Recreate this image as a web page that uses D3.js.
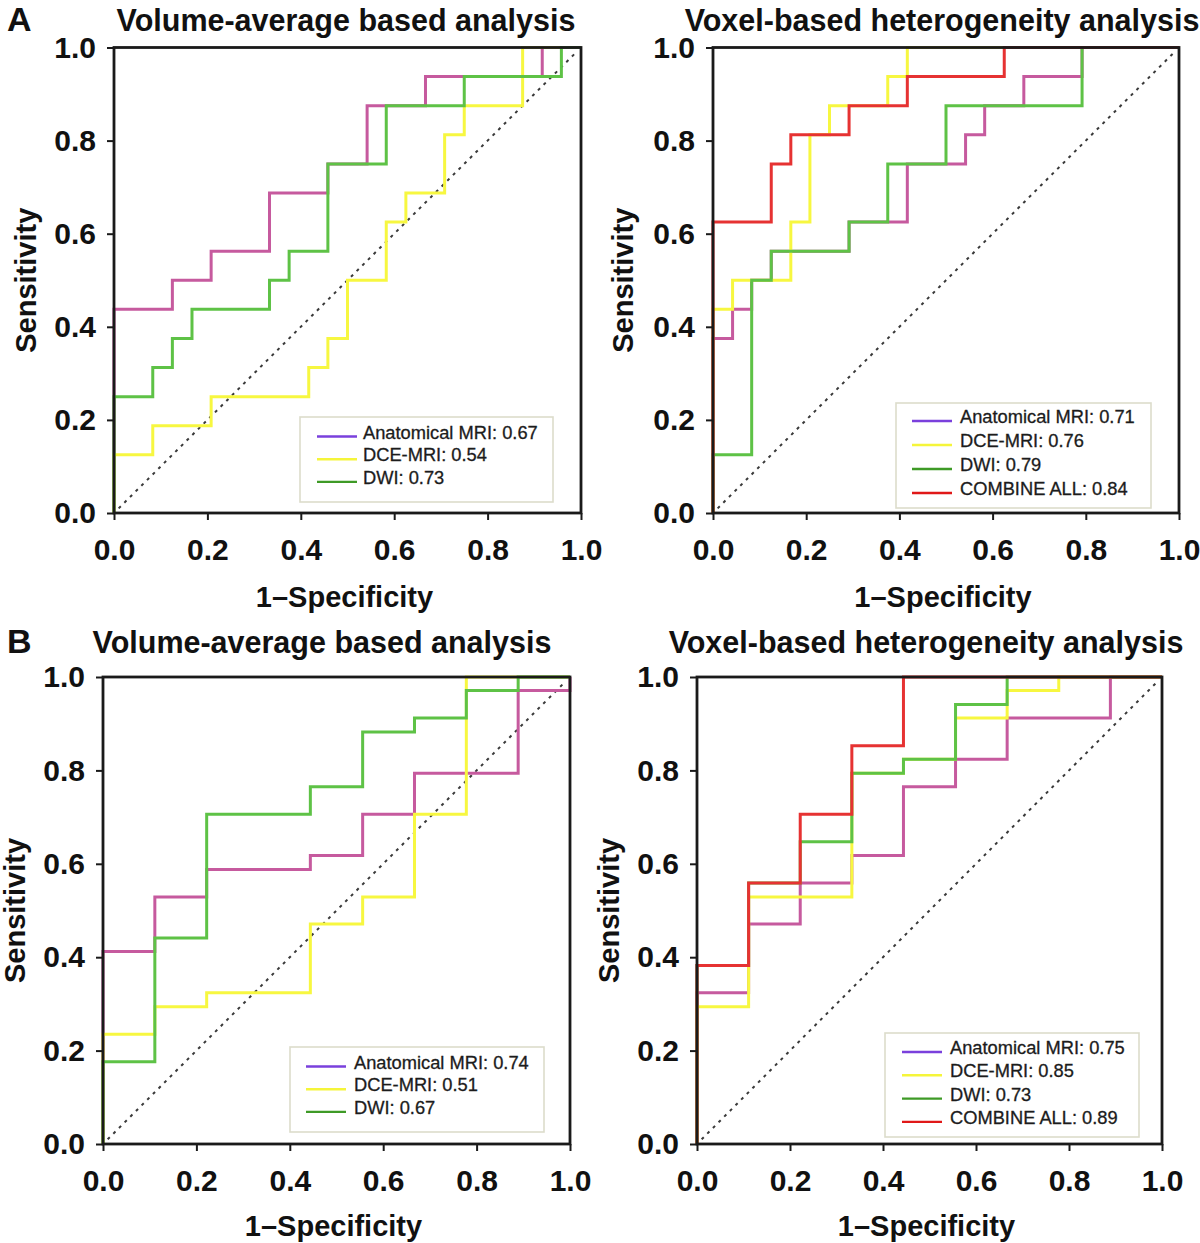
<!DOCTYPE html>
<html>
<head>
<meta charset="utf-8">
<script src="https://cdn.jsdelivr.net/npm/d3@7"></script>
<style>
  html, body { margin: 0; padding: 0; background: #fff; }
  svg { display: block; }
  text { font-family: "Liberation Sans", Arial, sans-serif; }
</style>
</head>
<body>
<svg id="chart" width="1200" height="1243"></svg>
<script>
// ---------------- DATA ----------------
const tickValues = [0, 0.2, 0.4, 0.6, 0.8, 1.0];
const tickLabels = ["0.0", "0.2", "0.4", "0.6", "0.8", "1.0"];
const panelLetters = ["A", "B"];
const panelTitles = ["Volume-average based analysis", "Voxel-based heterogeneity analysis",
                     "Volume-average based analysis", "Voxel-based heterogeneity analysis"];
const xAxisTitle = "1\u2013Specificity";
const yAxisTitle = "Sensitivity";
const seriesNames = ["Anatomical MRI", "DCE-MRI", "DWI", "COMBINE ALL"];

// AUC values per panel (A volume, A voxel, B volume, B voxel)
const aucAVolume = [0.67, 0.54, 0.73];
const aucAVoxel  = [0.71, 0.76, 0.79, 0.84];
const aucBVolume = [0.74, 0.51, 0.67];
const aucBVoxel  = [0.75, 0.85, 0.73, 0.89];

// ROC step points (1-specificity, sensitivity); each point is where a rise happens
// Panel A, volume-average
const aVolAnatFpr = [0, 0, 0.125, 0.208, 0.333, 0.458, 0.542, 0.667, 0.917, 1];
const aVolAnatTpr = [0, 0.4375, 0.5, 0.5625, 0.6875, 0.75, 0.875, 0.9375, 1, 1];
const aVolDceFpr  = [0, 0, 0.083, 0.208, 0.417, 0.458, 0.5, 0.583, 0.625, 0.708, 0.75, 0.875, 1];
const aVolDceTpr  = [0, 0.125, 0.1875, 0.25, 0.3125, 0.375, 0.5, 0.625, 0.6875, 0.8125, 0.875, 1, 1];
const aVolDwiFpr  = [0, 0, 0.083, 0.125, 0.167, 0.333, 0.375, 0.458, 0.583, 0.75, 0.958, 1];
const aVolDwiTpr  = [0, 0.25, 0.3125, 0.375, 0.4375, 0.5, 0.5625, 0.75, 0.875, 0.9375, 1, 1];
// Panel A, voxel-based
const aVoxAnatFpr = [0, 0, 0.042, 0.083, 0.125, 0.292, 0.417, 0.542, 0.583, 0.667, 0.792, 1];
const aVoxAnatTpr = [0, 0.375, 0.4375, 0.5, 0.5625, 0.625, 0.75, 0.8125, 0.875, 0.9375, 1, 1];
const aVoxDceFpr  = [0, 0, 0.042, 0.167, 0.208, 0.25, 0.375, 0.417, 1];
const aVoxDceTpr  = [0, 0.4375, 0.5, 0.625, 0.8125, 0.875, 0.9375, 1, 1];
const aVoxDwiFpr  = [0, 0, 0.083, 0.125, 0.292, 0.375, 0.5, 0.792, 1];
const aVoxDwiTpr  = [0, 0.125, 0.5, 0.5625, 0.625, 0.75, 0.875, 1, 1];
const aVoxAllFpr  = [0, 0, 0.125, 0.167, 0.292, 0.417, 0.625, 1];
const aVoxAllTpr  = [0, 0.625, 0.75, 0.8125, 0.875, 0.9375, 1, 1];
// Panel B, volume-average
const bVolAnatFpr = [0, 0, 0.111, 0.222, 0.444, 0.556, 0.667, 0.889, 1];
const bVolAnatTpr = [0, 0.412, 0.529, 0.588, 0.618, 0.706, 0.794, 0.971, 1];
const bVolDceFpr  = [0, 0, 0.111, 0.222, 0.444, 0.556, 0.667, 0.778, 1];
const bVolDceTpr  = [0, 0.235, 0.294, 0.324, 0.471, 0.529, 0.706, 1, 1];
const bVolDwiFpr  = [0, 0, 0.111, 0.222, 0.444, 0.556, 0.667, 0.778, 0.889, 1];
const bVolDwiTpr  = [0, 0.176, 0.441, 0.706, 0.765, 0.882, 0.912, 0.971, 1, 1];
// Panel B, voxel-based
const bVoxAnatFpr = [0, 0, 0.111, 0.222, 0.333, 0.444, 0.556, 0.667, 0.889, 1];
const bVoxAnatTpr = [0, 0.324, 0.471, 0.559, 0.618, 0.765, 0.824, 0.912, 1, 1];
const bVoxDceFpr  = [0, 0, 0.111, 0.333, 0.444, 0.556, 0.667, 0.778, 1];
const bVoxDceTpr  = [0, 0.294, 0.529, 0.794, 0.824, 0.912, 0.971, 1, 1];
const bVoxDwiFpr  = [0, 0, 0.111, 0.222, 0.333, 0.444, 0.556, 0.667, 1];
const bVoxDwiTpr  = [0, 0.382, 0.559, 0.647, 0.794, 0.824, 0.941, 1, 1];
const bVoxAllFpr  = [0, 0, 0.111, 0.222, 0.333, 0.444, 1];
const bVoxAllTpr  = [0, 0.382, 0.559, 0.706, 0.853, 1, 1];

// ---------------- STYLE / LAYOUT ----------------
const curveColors  = ["#c65a9e", "#f7f740", "#5ec246", "#e63232"];
const legendColors = ["#7a40dc", "#f5f53a", "#3e9a26", "#e01818"];

const zip = (fx, ty) => fx.map((v, i) => ({ x: v, y: ty[i] }));

const panels = [
  { x0: 114, x1: 581, yb: 513, yt: 47.5, title: panelTitles[0], titleX: 346, titleY: 31,
    letter: panelLetters[0], yTitleX: 26, xTitleY: 597,
    curves: [zip(aVolAnatFpr, aVolAnatTpr), zip(aVolDceFpr, aVolDceTpr), zip(aVolDwiFpr, aVolDwiTpr)],
    auc: aucAVolume, legend: { x: 300, y: 417, w: 253, h: 85, row0: 436.5, dy: 22.7, lx0: 317, lx1: 357, tx: 363 } },
  { x0: 713, x1: 1179, yb: 513, yt: 47.5, title: panelTitles[1], titleX: 942, titleY: 31,
    yTitleX: 623, xTitleY: 597,
    curves: [zip(aVoxAnatFpr, aVoxAnatTpr), zip(aVoxDceFpr, aVoxDceTpr), zip(aVoxDwiFpr, aVoxDwiTpr), zip(aVoxAllFpr, aVoxAllTpr)],
    auc: aucAVoxel, legend: { x: 896, y: 403, w: 255, h: 105, row0: 421, dy: 24, lx0: 912, lx1: 952, tx: 960 } },
  { x0: 103, x1: 570, yb: 1144, yt: 677, title: panelTitles[2], titleX: 322, titleY: 653,
    letter: panelLetters[1], yTitleX: 15, xTitleY: 1226,
    curves: [zip(bVolAnatFpr, bVolAnatTpr), zip(bVolDceFpr, bVolDceTpr), zip(bVolDwiFpr, bVolDwiTpr)],
    auc: aucBVolume, legend: { x: 290, y: 1047, w: 254, h: 85, row0: 1066.5, dy: 22.7, lx0: 306, lx1: 346, tx: 354 } },
  { x0: 697, x1: 1162, yb: 1144, yt: 677, title: panelTitles[3], titleX: 926, titleY: 653,
    yTitleX: 609, xTitleY: 1226,
    curves: [zip(bVoxAnatFpr, bVoxAnatTpr), zip(bVoxDceFpr, bVoxDceTpr), zip(bVoxDwiFpr, bVoxDwiTpr), zip(bVoxAllFpr, bVoxAllTpr)],
    auc: aucBVoxel, legend: { x: 885, y: 1033, w: 254, h: 104, row0: 1052, dy: 23.3, lx0: 902, lx1: 942, tx: 950 } }
];

const svg = d3.select("#chart");

panels.forEach((p, pi) => {
  const x = d3.scaleLinear().domain([0, 1]).range([p.x0, p.x1]);
  const y = d3.scaleLinear().domain([0, 1]).range([p.yb, p.yt]);
  const g = svg.append("g");

  // diagonal reference line
  g.append("line")
    .attr("x1", x(0.01)).attr("y1", y(0.01))
    .attr("x2", x(0.99)).attr("y2", y(0.99))
    .attr("stroke", "#3a3a3a").attr("stroke-width", 2)
    .attr("stroke-dasharray", "3,5");

  // curves
  const line = d3.line().x(d => x(d.x)).y(d => y(d.y)).curve(d3.curveStepAfter);
  p.curves.forEach((c, ci) => {
    g.append("path")
      .attr("d", line(c))
      .attr("fill", "none")
      .attr("stroke", curveColors[ci])
      .attr("stroke-width", 3)
      .attr("stroke-linejoin", "miter");
  });

  // frame
  g.append("rect")
    .attr("x", p.x0).attr("y", p.yt)
    .attr("width", p.x1 - p.x0).attr("height", p.yb - p.yt)
    .attr("fill", "none").attr("stroke", "#1a1a1a").attr("stroke-width", 2.8);

  // axes
  const fmt = (d) => tickLabels[tickValues.indexOf(d)];
  const yAxis = d3.axisLeft(y).tickValues(tickValues).tickFormat(fmt).tickSize(7).tickPadding(11);
  const xAxis = d3.axisBottom(x).tickValues(tickValues).tickFormat(fmt).tickSize(7).tickPadding(19);
  const ya = g.append("g").attr("transform", `translate(${p.x0},0)`).call(yAxis);
  const xa = g.append("g").attr("transform", `translate(0,${p.yb})`).call(xAxis);
  [ya, xa].forEach(a => {
    a.select(".domain").remove();
    a.selectAll(".tick line").attr("stroke", "#1a1a1a").attr("stroke-width", 2);
    a.selectAll(".tick text")
      .attr("fill", "#111")
      .style("font-size", "30px")
      .style("font-weight", "bold")
      .style("font-family", '"Liberation Sans", Arial, sans-serif');
  });

  // axis titles
  g.append("text")
    .attr("x", (p.x0 + p.x1) / 2 - 3).attr("y", p.xTitleY)
    .attr("dy", "0.36em")
    .attr("text-anchor", "middle")
    .style("font-size", "29px").style("font-weight", "bold").attr("fill", "#111")
    .text(xAxisTitle);
  g.append("text")
    .attr("transform", `translate(${p.yTitleX},${(p.yt + p.yb) / 2}) rotate(-90)`)
    .attr("dy", "0.36em")
    .attr("text-anchor", "middle")
    .style("font-size", "29px").style("font-weight", "bold").attr("fill", "#111")
    .text(yAxisTitle);

  // panel title
  g.append("text")
    .attr("x", p.titleX).attr("y", p.titleY)
    .attr("text-anchor", "middle")
    .style("font-size", "30.5px").style("font-weight", "bold").attr("fill", "#111")
    .text(p.title);

  if (p.letter) {
    g.append("text")
      .attr("x", 7).attr("y", p.titleY)
      .style("font-size", "34px").style("font-weight", "bold").attr("fill", "#111")
      .text(p.letter);
  }

  // legend
  const L = p.legend;
  const lg = g.append("g");
  lg.append("rect")
    .attr("x", L.x).attr("y", L.y).attr("width", L.w).attr("height", L.h)
    .attr("fill", "#fff").attr("stroke", "#dcdccb").attr("stroke-width", 1.6);
  p.auc.forEach((v, i) => {
    const ry = L.row0 + i * L.dy;
    lg.append("line")
      .attr("x1", L.lx0).attr("x2", L.lx1).attr("y1", ry).attr("y2", ry)
      .attr("stroke", legendColors[i]).attr("stroke-width", 2.4);
    lg.append("text")
      .attr("x", L.tx).attr("y", ry + 2)
      .style("font-size", "18.3px").attr("fill", "#1c1c1c")
      .attr("stroke", "#1c1c1c").attr("stroke-width", 0.3)
      .text(`${seriesNames[i]}: ${v.toFixed(2)}`);
  });
});
</script>
</body>
</html>
